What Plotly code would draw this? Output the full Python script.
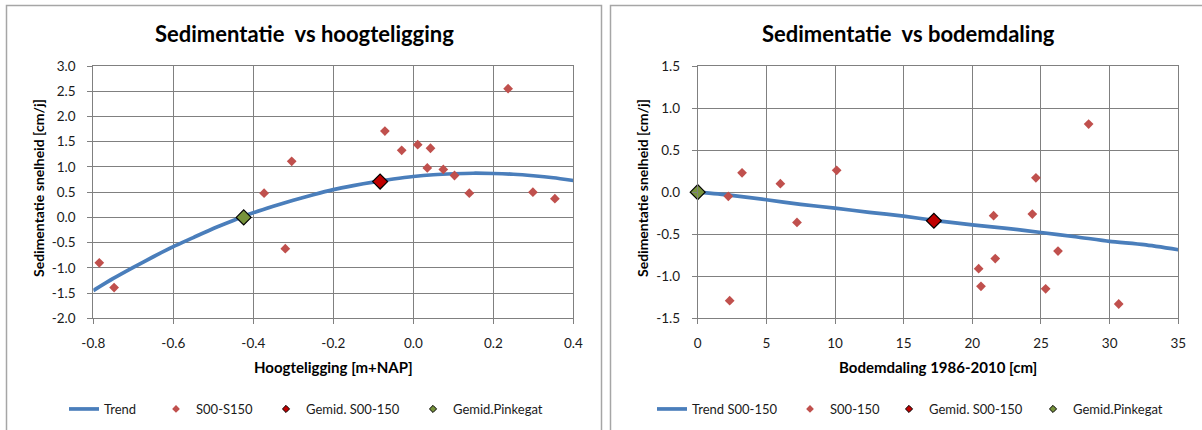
import plotly.graph_objects as go

# ---------------- data: left chart (Sedimentatie vs hoogteligging) ----------------
left_pts_x = [-0.785, -0.748, -0.373, -0.304, -0.320, -0.071, -0.029, 0.011, 0.043,
              0.035, 0.075, 0.103, 0.140, 0.237, 0.299, 0.354]
left_pts_y = [-0.90, -1.39, 0.48, 1.11, -0.62, 1.71, 1.33, 1.44, 1.37,
              0.98, 0.95, 0.83, 0.48, 2.55, 0.50, 0.37]
left_mean_x = [-0.083]
left_mean_y = [0.71]
left_pink_x = [-0.424]
left_pink_y = [0.0]
left_trend_x = [-0.80, -0.75, -0.70, -0.65, -0.60, -0.55, -0.50, -0.45, -0.40, -0.35,
                -0.30, -0.25, -0.20, -0.15, -0.10, -0.05, 0.00, 0.05, 0.10, 0.15,
                0.20, 0.25, 0.30, 0.35, 0.40]
left_trend_y = [-1.45, -1.21, -0.99, -0.78, -0.58, -0.40, -0.22, -0.06, 0.09, 0.22,
                0.34, 0.45, 0.55, 0.63, 0.70, 0.76, 0.81, 0.845, 0.865, 0.875,
                0.87, 0.855, 0.825, 0.785, 0.73]
left_xticks = [-0.8, -0.6, -0.4, -0.2, 0.0, 0.2, 0.4]
left_xtext = ["-0.8", "-0.6", "-0.4", "-0.2", "0.0", "0.2", "0.4"]
left_yticks = [-2.0, -1.5, -1.0, -0.5, 0.0, 0.5, 1.0, 1.5, 2.0, 2.5, 3.0]
left_ytext = ["-2.0", "-1.5", "-1.0", "-0.5", "0.0", "0.5", "1.0", "1.5", "2.0", "2.5", "3.0"]
left_names = ["Trend", "S00-S150", "Gemid. S00-150", "Gemid.Pinkegat"]

# ---------------- data: right chart (Sedimentatie vs bodemdaling) ----------------
right_pts_x = [2.23, 2.33, 3.23, 6.02, 7.23, 10.12, 20.46, 20.63, 21.55, 21.67,
               24.37, 24.63, 25.34, 26.24, 28.47, 30.66]
right_pts_y = [-0.05, -1.29, 0.23, 0.10, -0.36, 0.26, -0.91, -1.12, -0.28, -0.79,
               -0.26, 0.17, -1.15, -0.70, 0.81, -1.33]
right_mean_x = [17.2]
right_mean_y = [-0.34]
right_pink_x = [0.0]
right_pink_y = [0.0]
right_trend_x = [0.0, 2.3, 5.0, 7.5, 10.0, 12.5, 15.0, 17.2, 20.0, 22.5, 25.0, 27.5, 30.0, 32.5, 35.0]
right_trend_y = [0.0, -0.035, -0.09, -0.145, -0.19, -0.24, -0.285, -0.335, -0.39, -0.43,
                 -0.48, -0.53, -0.585, -0.625, -0.685]
right_xticks = [0, 5, 10, 15, 20, 25, 30, 35]
right_xtext = ["0", "5", "10", "15", "20", "25", "30", "35"]
right_yticks = [-1.5, -1.0, -0.5, 0.0, 0.5, 1.0, 1.5]
right_ytext = ["-1.5", "-1.0", "-0.5", "0.0", "0.5", "1.0", "1.5"]
right_names = ["Trend S00-150", "S00-150", "Gemid. S00-150", "Gemid.Pinkegat"]

titles = ["Sedimentatie\u00a0 vs hoogteligging", "Sedimentatie\u00a0 vs bodemdaling"]
xtitles = ["Hoogteligging [m+NAP]", "Bodemdaling 1986-2010 [cm]"]
ytitle = "Sedimentatie snelheid [cm/j]"

# ---------------- styling ----------------
W, H = 1202, 430
FONT = "Lato"
BLUE = "#4A7EBB"
RED = "#C0504D"
DARKRED = "#C00000"
GREEN = "#77933C"
GRID = "#808080"
TXT = "#1a1a1a"

def px(x):
    return x / W

def py(y):
    return 1 - y / H

fig = go.Figure()

panels = [
    dict(xa="x", ya="y", tx=left_trend_x, ty=left_trend_y, sx=left_pts_x, sy=left_pts_y,
         mx=left_mean_x, my=left_mean_y, gx=left_pink_x, gy=left_pink_y, names=left_names,
         legx=[64, 156, 266, 413], leg0=1),
    dict(xa="x2", ya="y2", tx=right_trend_x, ty=right_trend_y, sx=right_pts_x, sy=right_pts_y,
         mx=right_mean_x, my=right_mean_y, gx=right_pink_x, gy=right_pink_y, names=right_names,
         legx=[652, 790, 889, 1033], leg0=5),
]

legends = {}
for p in panels:
    lid = ["legend" if p["leg0"] + i == 1 else "legend%d" % (p["leg0"] + i) for i in range(4)]
    fig.add_trace(go.Scatter(x=p["tx"], y=p["ty"], xaxis=p["xa"], yaxis=p["ya"], mode="lines",
                             line=dict(color=BLUE, width=3.7, shape="spline", smoothing=0.6),
                             name=p["names"][0], legend=lid[0], showlegend=True))
    fig.add_trace(go.Scatter(x=p["sx"], y=p["sy"], xaxis=p["xa"], yaxis=p["ya"], mode="markers",
                             marker=dict(symbol="diamond", size=7.5, color=RED),
                             name=p["names"][1], showlegend=False))
    fig.add_trace(go.Scatter(x=p["mx"], y=p["my"], xaxis=p["xa"], yaxis=p["ya"], mode="markers",
                             marker=dict(symbol="diamond", size=11.5, color=DARKRED,
                                         line=dict(color="black", width=1.2)),
                             name=p["names"][2], showlegend=False))
    fig.add_trace(go.Scatter(x=p["gx"], y=p["gy"], xaxis=p["xa"], yaxis=p["ya"], mode="markers",
                             marker=dict(symbol="diamond", size=11.5, color=GREEN,
                                         line=dict(color="black", width=1.2)),
                             name=p["names"][3], showlegend=False, cliponaxis=False))
    fig.add_trace(go.Scatter(x=[None], y=[None], xaxis=p["xa"], yaxis=p["ya"], mode="markers",
                             marker=dict(symbol="diamond", size=6, color=RED),
                             name=p["names"][1], legend=lid[1]))
    fig.add_trace(go.Scatter(x=[None], y=[None], xaxis=p["xa"], yaxis=p["ya"], mode="markers",
                             marker=dict(symbol="diamond", size=5.5, color=DARKRED,
                                         line=dict(color="black", width=1)),
                             name=p["names"][2], legend=lid[2]))
    fig.add_trace(go.Scatter(x=[None], y=[None], xaxis=p["xa"], yaxis=p["ya"], mode="markers",
                             marker=dict(symbol="diamond", size=5.5, color=GREEN,
                                         line=dict(color="black", width=1)),
                             name=p["names"][3], legend=lid[3]))
    for i in range(4):
        legends[lid[i]] = dict(x=px(p["legx"][i]), y=py(409), xanchor="left", yanchor="middle",
                               orientation="h", bgcolor="rgba(0,0,0,0)", borderwidth=0,
                               font=dict(family=FONT, size=13, color=TXT),
                               tracegroupgap=0, itemclick=False)

axis_common = dict(showgrid=True, gridcolor=GRID, gridwidth=1, showline=True, linecolor=GRID,
                   linewidth=1, mirror=True, ticks="outside", ticklen=5, tickcolor=GRID,
                   zeroline=False, automargin=False,
                   tickfont=dict(family=FONT, size=13.5, color=TXT))

L_DOM = [px(93.3), px(573.3)]
R_DOM = [px(697.7), px(1178.3)]
Y_DOM = [py(318.3), py(66)]

fig.update_layout(
    width=W, height=H, margin=dict(l=0, r=0, t=0, b=0, pad=0, autoexpand=False),
    paper_bgcolor="white", plot_bgcolor="white",
    font=dict(family=FONT, color=TXT),
    xaxis=dict(domain=L_DOM, range=[-0.8, 0.4], tickvals=left_xticks, ticktext=left_xtext,
               anchor="y", ticklabelstandoff=7, **axis_common),
    yaxis=dict(domain=Y_DOM, range=[-2.0, 3.0], tickvals=left_yticks, ticktext=left_ytext,
               anchor="x", ticklabelstandoff=9, **axis_common),
    xaxis2=dict(domain=R_DOM, range=[0, 35], tickvals=right_xticks, ticktext=right_xtext,
                anchor="y2", ticklabelstandoff=7, **axis_common),
    yaxis2=dict(domain=Y_DOM, range=[-1.5, 1.5], tickvals=right_yticks, ticktext=right_ytext,
                anchor="x2", ticklabelstandoff=9, **axis_common),
    **legends,
)

for x0, x1 in [(6.5, 601.5), (610.5, 1210)]:
    fig.add_shape(type="rect", xref="paper", yref="paper", x0=px(x0), x1=px(x1),
                  y0=py(450), y1=py(5.5), line=dict(color="#A6A6A6", width=1.5),
                  fillcolor="rgba(0,0,0,0)", layer="below")

for cx, ttl in [(304, titles[0]), (908, titles[1])]:
    fig.add_annotation(x=px(cx), y=py(33), xref="paper", yref="paper", text="<b>%s</b>" % ttl,
                       showarrow=False, xanchor="center", yanchor="middle",
                       font=dict(family=FONT, size=22, color="black"))
for cx, ttl in [(333.3, xtitles[0]), (938, xtitles[1])]:
    fig.add_annotation(x=px(cx), y=py(367), xref="paper", yref="paper", text="<b>%s</b>" % ttl,
                       showarrow=False, xanchor="center", yanchor="middle",
                       font=dict(family=FONT, size=15, color="black"))
for cx in [38, 642]:
    fig.add_annotation(x=px(cx), y=py(188), xref="paper", yref="paper", text="<b>%s</b>" % ytitle,
                       showarrow=False, xanchor="center", yanchor="middle", textangle=-90,
                       font=dict(family=FONT, size=14, color="black"))

fig.write_html("out.html", config={"displayModeBar": False, "staticPlot": True},
               post_script="document.body.style.margin='0px';document.body.style.overflow='hidden';")
